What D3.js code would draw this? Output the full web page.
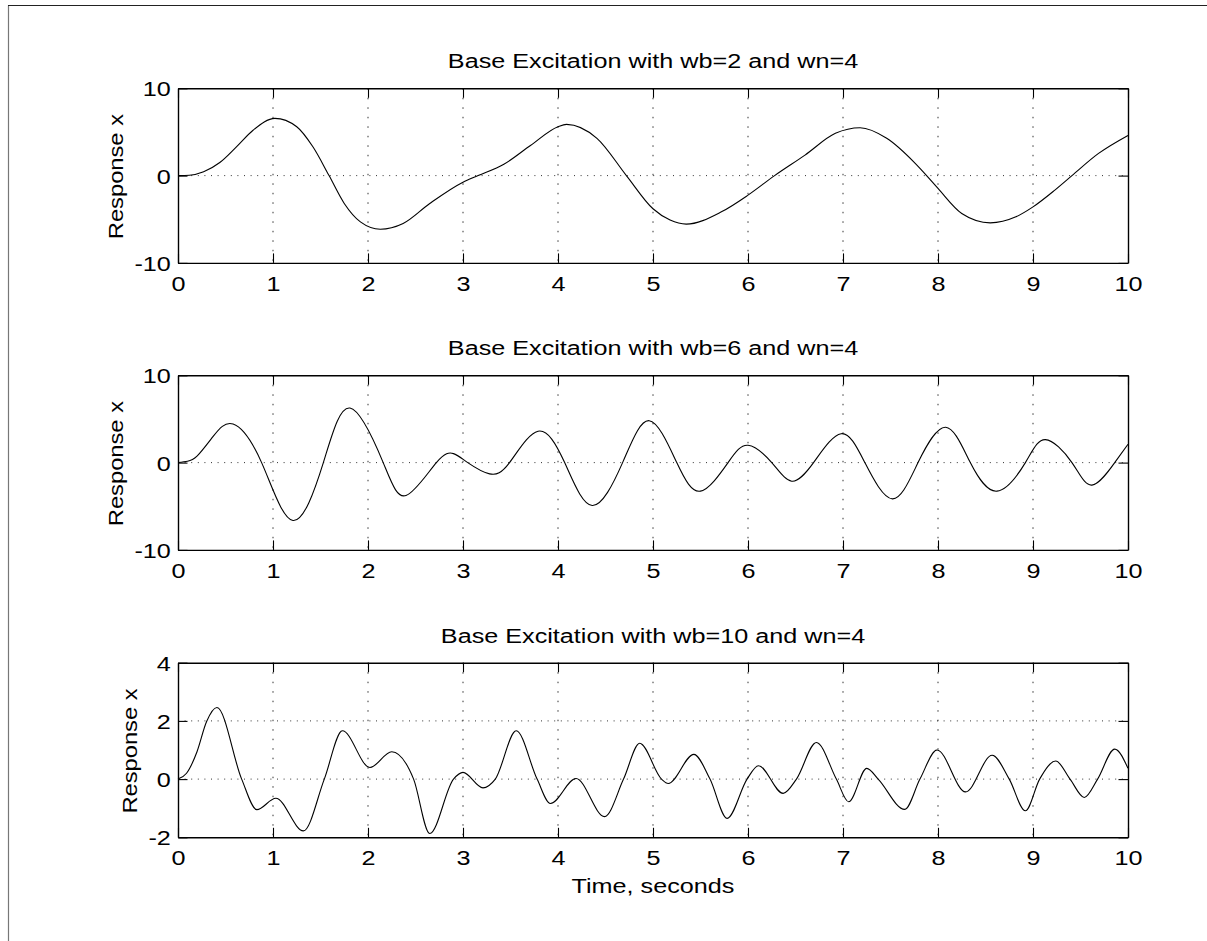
<!DOCTYPE html>
<html>
<head>
<meta charset="utf-8">
<script src="https://cdn.jsdelivr.net/npm/d3@7"></script>
<style>
  html, body { margin: 0; padding: 0; background: #fff; }
  svg { display: block; }
  text { font-family: "Liberation Sans", Arial, Helvetica, sans-serif; fill: #000; }
</style>
</head>
<body>
<svg id="chart" width="1207" height="941"></svg>
<script>
// ---------- data ----------
const titles = [
  "Base Excitation with wb=2 and wn=4",
  "Base Excitation with wb=6 and wn=4",
  "Base Excitation with wb=10 and wn=4"
];
const yLabel = "Response x";
const xLabel = "Time, seconds";
const xTicks = [0, 1, 2, 3, 4, 5, 6, 7, 8, 9, 10];
const yTicks1 = [-10, 0, 10];
const yTicks2 = [-10, 0, 10];
const yTicks3 = [-2, 0, 2, 4];

// wb = 2
const t1 = [0, 0.12, 0.27, 0.44, 0.62, 0.79, 1.02, 1.25, 1.42, 1.59, 1.75, 1.92, 2.13, 2.37, 2.65, 3.0, 3.16, 3.43, 3.71, 4.0, 4.09, 4.41, 4.72, 5.0, 5.18, 5.35, 5.72, 6.0, 6.28, 6.6, 6.92, 7.18, 7.46, 7.76, 7.88, 8.0, 8.25, 8.55, 8.82, 9.0, 9.23, 9.41, 9.69, 10.0];
const x1 = [0, 0.04, 0.44, 1.5, 3.35, 5.2, 6.56, 5.6, 3.3, 0, -3.19, -5.3, -6.14, -5.48, -3.19, -0.75, 0, 1.3, 3.45, 5.6, 5.87, 4.27, 0, -3.8, -5.1, -5.56, -4.15, -2.24, 0, 2.35, 4.84, 5.48, 4.27, 1.4, 0, -1.47, -4.34, -5.41, -4.72, -3.58, -1.66, 0, 2.54, 4.6];

// wb = 6  (start, then extrema and zero crossings)
const t2 = [0, 0.1, 0.2, 0.37, 0.58, 0.88, 1.21, 1.53, 1.81, 2.16, 2.4, 2.72, 2.9, 3.05, 3.28, 3.49, 3.79, 4.07, 4.36, 4.68, 4.96, 5.25, 5.5, 5.79, 6.0, 6.25, 6.46, 6.69, 6.98, 7.23, 7.52, 7.79, 8.08, 8.34, 8.62, 8.92, 9.13, 9.41, 9.62, 9.86, 10.0];
const x2 = [0, 0.15, 0.73, 3.0, 4.42, 0, -6.63, 0, 6.25, 0, -3.77, 0, 1.03, 0, -1.29, 0, 3.59, 0, -4.91, 0, 4.8, 0, -3.27, 0, 1.99, 0, -2.13, 0, 3.31, 0, -4.15, 0, 4.05, 0, -3.27, 0, 2.63, 0, -2.58, 0, 2.1];

// wb = 10  (start, then extrema and zero crossings)
const t3 = [0, 0.09, 0.2, 0.3, 0.41, 0.67, 0.83, 1.03, 1.32, 1.54, 1.73, 2.02, 2.25, 2.48, 2.65, 2.9, 3.0, 3.21, 3.34, 3.56, 3.78, 3.92, 4.19, 4.49, 4.69, 4.86, 5.09, 5.16, 5.43, 5.6, 5.78, 5.99, 6.11, 6.37, 6.51, 6.72, 6.93, 7.06, 7.25, 7.37, 7.65, 7.81, 7.99, 8.29, 8.57, 8.75, 8.92, 9.07, 9.24, 9.39, 9.54, 9.68, 9.86, 10.0];
const x3 = [0, 0.2, 0.94, 1.97, 2.46, 0, -1.05, -0.66, -1.78, 0, 1.66, 0.4, 0.94, 0, -1.87, 0, 0.23, -0.3, 0, 1.66, 0, -0.84, 0.02, -1.29, 0, 1.23, 0, -0.15, 0.85, 0, -1.35, 0, 0.46, -0.49, 0, 1.26, 0, -0.78, 0.37, 0, -1.04, 0, 1.0, -0.44, 0.82, 0, -1.09, 0, 0.62, 0, -0.63, 0, 1.03, 0.37];

const panels = [
  { title: titles[0], t: t1, v: x1, yTicks: yTicks1, yLabelX: 123, curve: d3.curveMonotoneX },
  { title: titles[1], t: t2, v: x2, yTicks: yTicks2, yLabelX: 123, curve: d3.curveNatural },
  { title: titles[2], t: t3, v: x3, yTicks: yTicks3, yLabelX: 136.5, curve: d3.curveMonotoneX }
];

// ---------- layout ----------
const svg = d3.select("#chart");
const L = 178, R = 1128;
const tops = [88.3, 375.3, 662.7];
const H = 174.6;
const FS = 21;          // font size
const SX = 1.2;         // horizontal widening of the glyphs (reference font is wide)
const TICK = 9.5;

// figure frame
svg.append("line").attr("x1", 8.5).attr("x2", 8.5).attr("y1", 5.5).attr("y2", 941)
  .attr("stroke", "#777").attr("stroke-width", 1.2);
svg.append("line").attr("x1", 8).attr("x2", 1207).attr("y1", 5.5).attr("y2", 5.5)
  .attr("stroke", "#222").attr("stroke-width", 1.2);

const x = d3.scaleLinear().domain([0, 10]).range([L, R]);
const fmt = d => String(d);   // plain hyphen-minus as in the reference

panels.forEach((p, i) => {
  const top = tops[i], bot = top + H;
  const yd = d3.extent(p.yTicks);
  const y = d3.scaleLinear().domain(yd).range([bot, top]);
  const g = svg.append("g");

  // grid (dotted)
  g.append("g").selectAll("line").data(xTicks.slice(1, -1)).join("line")
    .attr("x1", d => x(d)).attr("x2", d => x(d)).attr("y1", top).attr("y2", bot)
    .attr("stroke", "#333").attr("stroke-width", 1).attr("stroke-dasharray", "1.5,8");
  g.append("g").selectAll("line").data(p.yTicks.slice(1, -1)).join("line")
    .attr("x1", L).attr("x2", R).attr("y1", d => y(d)).attr("y2", d => y(d))
    .attr("stroke", "#333").attr("stroke-width", 1).attr("stroke-dasharray", "1,5.6");

  // curve
  const line = d3.line().x(d => x(d[0])).y(d => y(d[1])).curve(p.curve);
  g.append("path").datum(p.t.map((t, k) => [t, p.v[k]]))
    .attr("fill", "none").attr("stroke", "#000").attr("stroke-width", 1.1)
    .attr("d", line);

  // axes
  const ab = g.append("g").attr("transform", `translate(0,${bot})`)
    .call(d3.axisBottom(x).tickValues(xTicks).tickFormat(fmt)
      .tickSizeInner(-TICK).tickSizeOuter(0).tickPadding(12.5));
  const at = g.append("g").attr("transform", `translate(0,${top})`)
    .call(d3.axisTop(x).tickValues(xTicks).tickFormat(() => "")
      .tickSizeInner(-TICK).tickSizeOuter(0));
  const al = g.append("g").attr("transform", `translate(${L},0)`)
    .call(d3.axisLeft(y).tickValues(p.yTicks).tickFormat(fmt)
      .tickSizeInner(-TICK).tickSizeOuter(0).tickPadding(6));
  const ar = g.append("g").attr("transform", `translate(${R},0)`)
    .call(d3.axisRight(y).tickValues(p.yTicks).tickFormat(() => "")
      .tickSizeInner(-TICK).tickSizeOuter(0));
  [ab, at, al, ar].forEach(a => {
    a.select(".domain").attr("stroke", "#000").attr("stroke-width", 1.4);
    a.selectAll(".tick line").attr("stroke", "#000").attr("stroke-width", 1.1);
    a.selectAll("text").attr("font-size", FS)
      .attr("font-family", '"Liberation Sans", Arial, sans-serif')
      .attr("fill", "#000").attr("transform", `scale(${SX},1)`);
  });
  al.selectAll(".tick text").attr("dy", "0.36em");
  ab.selectAll(".tick text").attr("dy", "0.72em");

  // title
  svg.append("text").attr("transform", `translate(${(L + R) / 2},${top - 20}) scale(${SX},1)`)
    .attr("text-anchor", "middle").attr("font-size", FS).text(p.title);

  // y label
  svg.append("text")
    .attr("transform", `translate(${p.yLabelX},${(top + bot) / 2 + 1}) rotate(-90) scale(1.13,1)`)
    .attr("text-anchor", "middle").attr("font-size", FS).text(yLabel);
});

// x label
svg.append("text").attr("transform", `translate(${(L + R) / 2},893) scale(${SX},1)`)
  .attr("text-anchor", "middle").attr("font-size", FS).text(xLabel);
</script>
</body>
</html>
